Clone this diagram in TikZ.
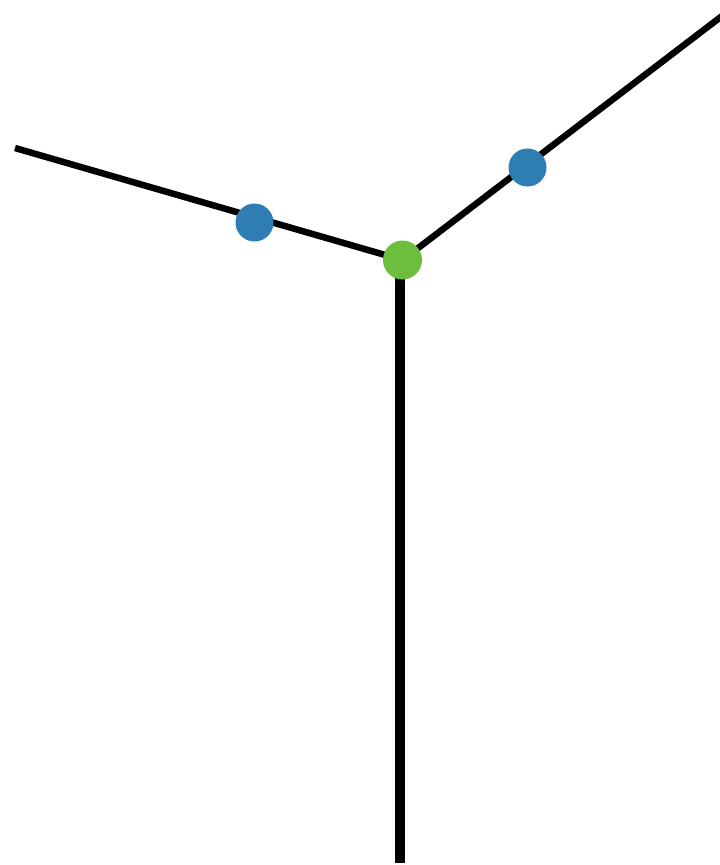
\documentclass[tikz,border=0pt]{standalone}
\definecolor{dotblue}{HTML}{2E7EB4}
\definecolor{dotgreen}{HTML}{6DBD3E}
\begin{document}
\begin{tikzpicture}[x=1pt,y=-1pt,
  edge/.style={line width=6.5pt,black},
  trunk/.style={line width=9.5pt,black},
  bluedot/.style={circle,fill=dotblue,minimum size=38pt,inner sep=0pt},
  greendot/.style={circle,fill=dotgreen,minimum size=39pt,inner sep=0pt}]
\useasboundingbox (0,0) rectangle (720,865);
\coordinate (L) at (15,148);
\coordinate (R) at (722,16);
\coordinate (B) at (400,863);
\coordinate (C) at (402.5,260);
\coordinate (Cv) at (400,260);
\draw[edge] (L) -- (C);
\draw[edge] (C) -- (R);
\draw[trunk] (Cv) -- (B);
\node[bluedot] (b1) at (254.5,222.5) {};
\node[bluedot] (b2) at (527.5,167.5) {};
\node[greendot] (g) at (C) {};
\end{tikzpicture}
\end{document}
